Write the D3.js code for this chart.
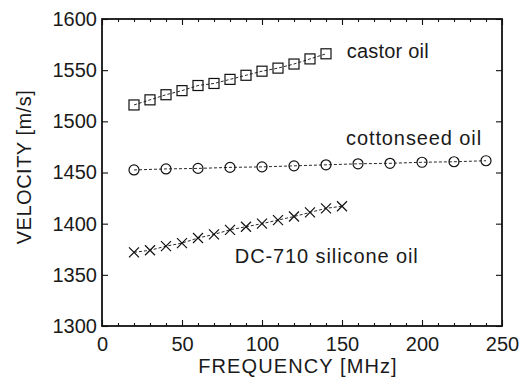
<!DOCTYPE html>
<html><head><meta charset="utf-8">
<script src="https://cdn.jsdelivr.net/npm/d3@7"></script>
<style>
html,body{margin:0;padding:0;background:#fff;}
text{font-family:"Liberation Sans",Arial,Helvetica,sans-serif;fill:#1a1a1a;}
</style></head>
<body><svg id="c" width="527" height="385"></svg>
<script>
const castorX = [20,30,40,50,60,70,80,90,100,110,120,130,140];
const castorY = [1516,1521,1526,1530,1535,1537,1541,1545,1549,1552,1556,1561,1566];
const cottonX = [20,40,60,80,100,120,140,160,180,200,220,240];
const cottonY = [1452.5,1453.5,1454,1455,1455.5,1456.5,1457.5,1458.5,1459,1460,1460.5,1461.5];
const dcX = [20,30,40,50,60,70,80,90,100,110,120,130,140,150];
const dcY = [1372,1374,1378,1381,1386,1389.5,1394,1397,1400,1403.5,1407,1411,1415,1417];
const xTicks = [0,50,100,150,200,250];
const yTicks = [1300,1350,1400,1450,1500,1550,1600];
const labels = ["castor oil","cottonseed oil","DC-710 silicone oil"];
const xTitle = "FREQUENCY [MHz]";
const yTitle = "VELOCITY [m/s]";

(function(){
const L=102,R=502,T=19,B=326;
const svg=d3.select("#c");
const x=d3.scaleLinear().domain([0,250]).range([L,R]);
const y=d3.scaleLinear().domain([1300,1600]).range([B,T]);
const ink="#111";

const line=d3.line().x(d=>x(d[0])).y(d=>y(d[1]));
const series=[
  {xs:castorX,ys:castorY,m:"square"},
  {xs:cottonX,ys:cottonY,m:"circle"},
  {xs:dcX,ys:dcY,m:"cross"}
];
series.forEach(s=>{
  const pts=s.xs.map((v,i)=>[v,s.ys[i]]);
  svg.append("path").attr("d",line(pts)).attr("fill","none")
    .attr("stroke",ink).attr("stroke-width",0.9).attr("stroke-dasharray","3,2");
  const g=svg.append("g").attr("fill","none").attr("stroke",ink).attr("stroke-width",1.2);
  pts.forEach(p=>{
    const cx=x(p[0]),cy=y(p[1]);
    if(s.m==="square") g.append("rect").attr("x",cx-5).attr("y",cy-5).attr("width",10).attr("height",10);
    else if(s.m==="circle") g.append("circle").attr("cx",cx).attr("cy",cy).attr("r",5);
    else g.append("path").attr("d",`M${cx-5},${cy-5}L${cx+5},${cy+5}M${cx-5},${cy+5}L${cx+5},${cy-5}`);
  });
});

const minor=d3.range(0,251,10).filter(v=>v%50!==0);
svg.append("g").attr("transform",`translate(0,${B})`)
  .call(d3.axisBottom(x).tickValues(xTicks).tickSize(-6).tickPadding(11).tickFormat(d3.format("d")));
svg.append("g").attr("transform",`translate(0,${T})`)
  .call(d3.axisTop(x).tickValues(xTicks).tickSize(-6).tickFormat(""));
svg.append("g").attr("transform",`translate(${L},0)`)
  .call(d3.axisLeft(y).tickValues(yTicks).tickSize(-6).tickPadding(5).tickFormat(d3.format("d")));
svg.append("g").attr("transform",`translate(${R},0)`)
  .call(d3.axisRight(y).tickValues(yTicks).tickSize(-6).tickFormat(""));
svg.append("g").attr("transform",`translate(0,${B})`)
  .call(d3.axisBottom(x).tickValues(minor).tickSize(-3).tickFormat(""));
svg.append("g").attr("transform",`translate(0,${T})`)
  .call(d3.axisTop(x).tickValues(minor).tickSize(-3).tickFormat(""));
svg.selectAll(".domain").remove();
svg.selectAll(".tick line").attr("stroke",ink).attr("stroke-width",1.1);
svg.selectAll(".tick text").style("font-size","20px").attr("fill","#1a1a1a");
svg.append("rect").attr("x",L).attr("y",T).attr("width",R-L).attr("height",B-T)
  .attr("fill","none").attr("stroke",ink).attr("stroke-width",1.8);

const ann=[[153,1562],[152.5,1477],[83,1361.5]];
const spacing=["0.2px","0.9px","0.9px"];
labels.forEach((t,i)=>{
  svg.append("text").attr("x",x(ann[i][0])).attr("y",y(ann[i][1]))
    .style("font-size","20px").style("letter-spacing",spacing[i]).text(t);
});
svg.append("text").attr("x",298).attr("y",373).attr("text-anchor","middle")
  .style("font-size","20px").style("letter-spacing","1.1px").text(xTitle);
svg.append("text").attr("transform","translate(31,167) rotate(-90)").attr("text-anchor","middle")
  .style("font-size","20px").style("letter-spacing","0.5px").text(yTitle);
})();
</script></body></html>
